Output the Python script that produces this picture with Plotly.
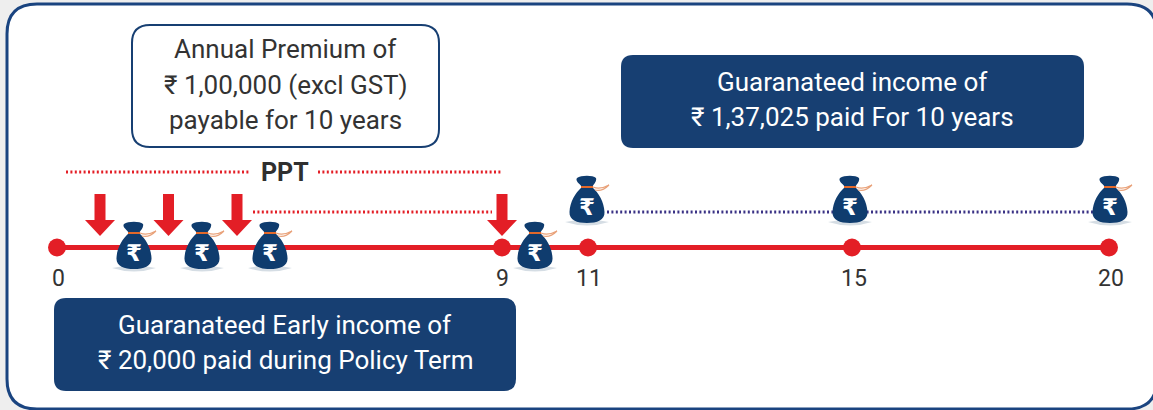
import plotly.graph_objects as go

# Content
year_labels = ["0", "9", "11", "15", "20"]
box_top_lines = ["Annual Premium of", "₹ 1,00,000 (excl GST)", "payable for 10 years"]
box_right_lines = ["Guaranateed income of", "₹ 1,37,025 paid For 10 years"]
box_low_lines = ["Guaranateed Early income of", "₹ 20,000 paid during Policy Term"]
ppt_label = "PPT"

# Schematic placement on the 1153x410 canvas
year_x = [57, 502, 588, 852, 1109]
label_x = [58, 502, 589, 854, 1111]
arrow_x = [100, 168.5, 237, 502]
low_bag_x = [134, 202, 270, 535]
high_bag_x = [587, 850, 1110]

NAVY = "#173f72"
RED = "#e31e26"
BAG = "#0f3c6e"
FONT = "Roboto"


def rrect(x0, y0, x1, y1, r):
    return (f"M{x0+r},{y0} L{x1-r},{y0} Q{x1},{y0} {x1},{y0+r} L{x1},{y1-r} Q{x1},{y1} {x1-r},{y1} "
            f"L{x0+r},{y1} Q{x0},{y1} {x0},{y1-r} L{x0},{y0+r} Q{x0},{y0} {x0+r},{y0} Z")


shapes = []
annotations = []


def add_shape(path, fill="rgba(0,0,0,0)", line=None, width=0, layer="above"):
    shapes.append(dict(type="path", path=path, fillcolor=fill, layer=layer,
                       line=dict(color=line or "rgba(0,0,0,0)", width=width)))


def add_text(x, y, text, size, color="#333333", bold=False, family=FONT):
    annotations.append(dict(x=x, y=y, text=f"<b>{text}</b>" if bold else text, showarrow=False,
                            xref="x", yref="y", xanchor="center", yanchor="middle",
                            font=dict(family=family, size=size, color=color)))


def arrow(cx):
    add_shape(f"M{cx-5.5},194 L{cx+5.5},194 L{cx+5.5},220 L{cx+15},220 L{cx},236 L{cx-15},220 L{cx-5.5},220 Z", fill=RED)


def bag(cx, top):
    # top is the y of the bag's crown; the bag is 50 px tall
    y = lambda v: top + v
    add_shape(f"M{cx-22},{y(46)} Q{cx},{y(53)} {cx+22},{y(46)} Q{cx},{y(41)} {cx-22},{y(46)} Z", fill="#d5dde4")
    add_shape(f"M{cx-5},{y(11)} C{cx-8},{y(7)} {cx-12},{y(5)} {cx-10},{y(2)} C{cx-6},{y(-1)} {cx+6},{y(-1)} {cx+9},{y(2)} "
              f"C{cx+10},{y(5)} {cx+7},{y(8)} {cx+5},{y(11)} "
              f"C{cx+12},{y(17)} {cx+17},{y(26)} {cx+17.5},{y(36)} C{cx+18},{y(44)} {cx+10},{y(47)} {cx},{y(47)} "
              f"C{cx-10},{y(47)} {cx-18},{y(44)} {cx-17.5},{y(36)} C{cx-17},{y(26)} {cx-12},{y(17)} {cx-5},{y(11)} Z", fill=BAG)
    add_shape(f"M{cx-6},{y(10)} L{cx+6},{y(10)} L{cx+6},{y(12)} L{cx-6},{y(12)} Z", fill="#e2682a")
    add_shape(f"M{cx+6},{y(11)} Q{cx+13},{y(14)} {cx+22},{y(9)} M{cx+8},{y(14)} Q{cx+15},{y(16)} {cx+22},{y(9)}",
              line="#e9a27a", width=1.2)
    add_text(cx, y(31), "₹", 23, "#ffffff", True, "DejaVu Sans")


# Frame
add_shape(rrect(7, 4, 1157, 409, 30), fill="#ffffff", line="#1a4480", width=3, layer="below")

# Boxes
add_shape(rrect(132, 25, 439, 147, 18), fill="#ffffff", line=NAVY, width=2)
add_shape(rrect(621, 55, 1084, 148, 12), fill=NAVY)
add_shape(rrect(54, 298, 516, 391, 12), fill=NAVY)
for text, ty in zip(box_top_lines, [49, 85, 120]):
    add_text(285.5, ty, text, 26)
for text, ty in zip(box_right_lines, [82, 117]):
    add_text(852.5, ty, text, 26, "#ffffff")
for text, ty in zip(box_low_lines, [325, 360]):
    add_text(285, ty, text, 26, "#ffffff")

# Spans
for (x0, x1, yy, color) in [(66, 250, 172, RED), (318, 502, 172, RED), (253, 492, 212, RED), (607, 1100, 212, "#3a3285")]:
    shapes.append(dict(type="line", x0=x0, x1=x1, y0=yy, y1=yy, layer="below",
                       line=dict(color=color, width=3, dash="2px 2.4px")))
add_text(285, 172, ppt_label, 25, "#2f2f2f", True)

for cx in arrow_x:
    arrow(cx)
for cx in low_bag_x:
    bag(cx, 222)
for cx in high_bag_x:
    bag(cx, 176)
for text, cx in zip(year_labels, label_x):
    add_text(cx, 278, text, 23)

fig = go.Figure(go.Scatter(
    x=year_x, y=[247.5] * len(year_x), mode="lines+markers", hoverinfo="skip",
    line=dict(color=RED, width=5), marker=dict(color=RED, size=18, line=dict(width=0)),
))
fig.update_layout(
    width=1153, height=410, margin=dict(l=0, r=0, t=0, b=0), showlegend=False,
    paper_bgcolor="#eeeeee", plot_bgcolor="rgba(0,0,0,0)",
    xaxis=dict(range=[0, 1153], visible=False, fixedrange=True),
    yaxis=dict(range=[410, 0], visible=False, fixedrange=True),
    shapes=shapes, annotations=annotations,
)
fig.write_html("out.html", config=dict(displayModeBar=False),
               post_script="document.body.style.margin='0';")
